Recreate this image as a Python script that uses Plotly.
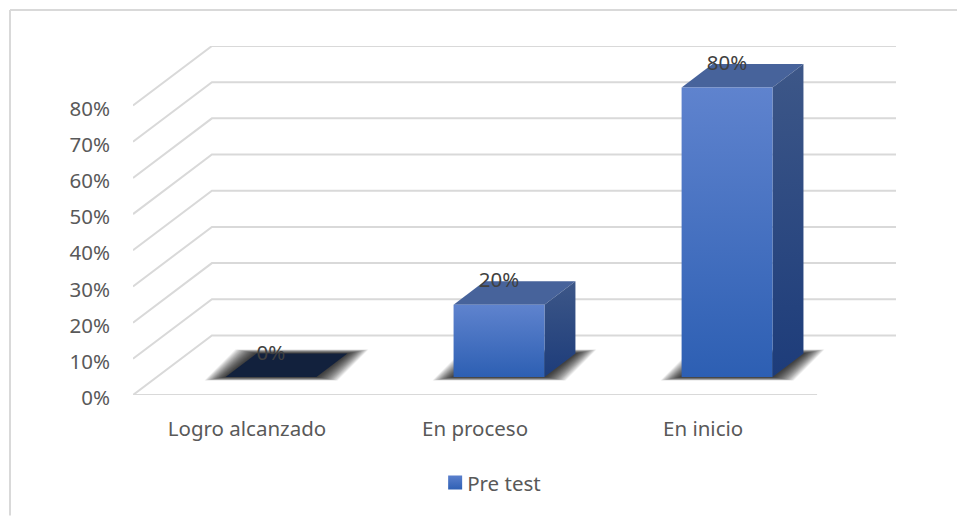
import plotly.graph_objects as go

# Data
categories = ['Logro alcanzado', 'En proceso', 'En inicio']
values = [0, 20, 80]
value_labels = ['0%', '20%', '80%']
tick_vals = [0, 10, 20, 30, 40, 50, 60, 70, 80]
tick_text = ['0%', '10%', '20%', '30%', '40%', '50%', '60%', '70%', '80%']
series_name = 'Pre test'

# Page layout, pixels
W, H = 957, 516
M_L, M_R, M_T, M_B = 133, 61, 46, 120.6

# Pixels per data unit
PX_X = 228.3
PX_Y = 3.62

# Fake 3D depth of the floor and of the bars, in data units
X_LEFT = -0.5
X_FRONT_END = 2.5
FLOOR_DX = 79 / PX_X
FLOOR_DY = 59.6 / PX_Y
BAR_GAP_X = 24 / PX_X
BAR_GAP_Y = 18 / PX_Y
BAR_W = 91 / PX_X
BAR_DX = 31 / PX_X
BAR_DY = 23.5 / PX_Y
LABEL_SHIFT = -1.2 / PX_Y

dic_colours = {
    'grid': '#d9d9d9',
    'text': '#595959',
    'label': '#404040',
    'front_top': '#5f83ce',
    'front_bottom': '#2d5fb3',
    'side_top': '#3d5788',
    'side_bottom': '#1d3c7a',
    'top': '#47639b',
    'top_empty': '#12213d',
    'legend_top': '#5a7fcc',
    'legend_bottom': '#2f60b4',
}

FONT = 'Noto Sans'
FONT_SIZE = 20.5
LINE_W = 2

fig = go.Figure()


def add_poly(xs, ys, **kwargs):
    fig.add_trace(go.Scatter(x=xs + xs[:1], y=ys + ys[:1],
                             mode='lines',
                             fill='toself',
                             line={'width': 0},
                             hoverinfo='skip',
                             showlegend=False,
                             cliponaxis=False,
                             **kwargs))


#-------------
# Floor and back wall lines
#-------------
x_end = X_FRONT_END + FLOOR_DX
for v in tick_vals:
    fig.add_trace(go.Scatter(x=[X_LEFT, X_LEFT + FLOOR_DX, x_end],
                             y=[v, v + FLOOR_DY, v + FLOOR_DY],
                             mode='lines',
                             line={'color': dic_colours['grid'], 'width': LINE_W},
                             hoverinfo='skip',
                             showlegend=False,
                             cliponaxis=False))

fig.add_trace(go.Scatter(x=[X_LEFT, X_FRONT_END],
                         y=[0, 0],
                         mode='lines',
                         line={'color': dic_colours['grid'], 'width': LINE_W},
                         hoverinfo='skip',
                         showlegend=False,
                         cliponaxis=False))


#-------------
# Bars
#-------------
n_shadow = 16
for i, v in enumerate(values):
    x0 = i + BAR_GAP_X - BAR_W / 2
    x1 = x0 + BAR_W
    y0 = BAR_GAP_Y
    y1 = y0 + v

    # Soft shadow on the floor, stacked translucent layers
    for k in range(n_shadow):
        g = 1 - k / n_shadow
        gx = 21 * g / PX_X
        gy_low = 3.5 * g / PX_Y
        gy_high = 4 * g / PX_Y
        add_poly([x0 - gx, x1 + gx, x1 + BAR_DX + gx, x0 + BAR_DX - gx],
                 [y0 - gy_low, y0 - gy_low, y0 + BAR_DY + gy_high, y0 + BAR_DY + gy_high],
                 fillcolor='rgba(0,0,0,0.08)')

    # Top face
    top_col = dic_colours['top'] if v > 0 else dic_colours['top_empty']
    add_poly([x0, x1, x1 + BAR_DX, x0 + BAR_DX],
             [y1, y1, y1 + BAR_DY, y1 + BAR_DY],
             fillcolor=top_col)

    if v > 0:
        # Side face
        add_poly([x1, x1 + BAR_DX, x1 + BAR_DX, x1],
                 [y0, y0 + BAR_DY, y1 + BAR_DY, y1],
                 fillgradient={'type': 'vertical',
                               'colorscale': [[0, dic_colours['side_bottom']],
                                              [1, dic_colours['side_top']]]})
        # Front face
        add_poly([x0, x1, x1, x0],
                 [y0, y0, y1, y1],
                 fillgradient={'type': 'vertical',
                               'colorscale': [[0, dic_colours['front_bottom']],
                                              [1, dic_colours['front_top']]]})


#-------------
# Data labels
#-------------
fig.add_trace(go.Scatter(x=[i + BAR_GAP_X for i in range(len(values))],
                         y=[v + BAR_GAP_Y + BAR_DY + LABEL_SHIFT for v in values],
                         mode='text',
                         text=value_labels,
                         textposition='middle center',
                         textfont={'family': FONT, 'size': FONT_SIZE, 'color': dic_colours['label']},
                         hoverinfo='skip',
                         showlegend=False,
                         cliponaxis=False))

# Legend entry
fig.add_trace(go.Scatter(x=[None], y=[None],
                         mode='markers',
                         name=series_name,
                         marker={'symbol': 'square', 'size': 14,
                                 'color': dic_colours['legend_top'],
                                 'gradient': {'type': 'vertical',
                                              'color': dic_colours['legend_bottom']}}))


#-------------
# Outer frame, top and left edges only
#-------------
plot_w = W - M_L - M_R
plot_h = H - M_T - M_B
frame_x = (10 - M_L) / plot_w
frame_y = 1 + (M_T - 10) / plot_h
frame_y_low = 1 - (H - M_T) / plot_h
frame_x_high = 1 + M_R / plot_w
list_shapes = [
    {'type': 'line', 'xref': 'paper', 'yref': 'paper',
     'x0': frame_x, 'x1': frame_x_high, 'y0': frame_y, 'y1': frame_y,
     'line': {'color': dic_colours['grid'], 'width': LINE_W}},
    {'type': 'line', 'xref': 'paper', 'yref': 'paper',
     'x0': frame_x, 'x1': frame_x, 'y0': frame_y, 'y1': frame_y_low,
     'line': {'color': dic_colours['grid'], 'width': LINE_W}},
]


#-------------
# Layout
#-------------
fig.update_xaxes(range=[X_LEFT, x_end],
                 tickmode='array',
                 tickvals=list(range(len(categories))),
                 ticktext=categories,
                 ticks='',
                 ticklabelstandoff=19,
                 tickfont={'family': FONT, 'size': FONT_SIZE, 'color': dic_colours['text']},
                 showgrid=False,
                 zeroline=False,
                 showline=False)

fig.update_yaxes(range=[0, 80 + FLOOR_DY],
                 tickmode='array',
                 tickvals=tick_vals,
                 ticktext=tick_text,
                 ticks='',
                 ticklabelstandoff=22,
                 ticklabelshift=3,
                 tickfont={'family': FONT, 'size': FONT_SIZE, 'color': dic_colours['text']},
                 showgrid=False,
                 zeroline=False,
                 showline=False)

fig.update_layout(width=W,
                  height=H,
                  margin={'l': M_L, 'r': M_R, 't': M_T, 'b': M_B, 'pad': 0},
                  paper_bgcolor='white',
                  plot_bgcolor='white',
                  shapes=list_shapes,
                  showlegend=True,
                  legend={'x': 0.396, 'y': -0.194, 'xanchor': 'left', 'yanchor': 'top',
                          'font': {'family': FONT, 'size': FONT_SIZE, 'color': dic_colours['text']},
                          'bgcolor': 'rgba(0,0,0,0)'})

# Page margin off, legend text pulled in next to its swatch
post_js = ("document.body.style.margin='0';"
           "document.querySelectorAll('.legendtext').forEach(function(t){t.setAttribute('x','32');});")

fig.write_html("out.html", post_script=post_js, config={'displayModeBar': False})
